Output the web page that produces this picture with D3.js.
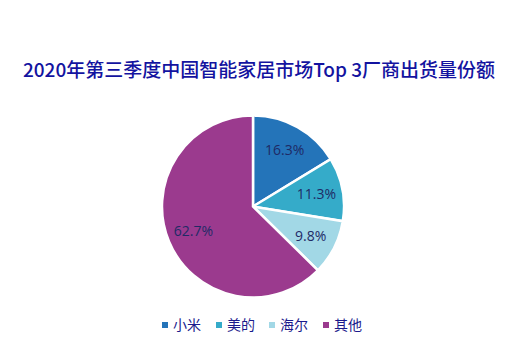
<!DOCTYPE html>
<html>
<head>
<meta charset="utf-8">
<script src="https://cdn.jsdelivr.net/npm/d3@7"></script>
<style>
  body { margin: 0; background: #fff; }
</style>
</head>
<body>
<div id="chart"></div>
<script>
// Data
const brands = ["小米", "美的", "海尔", "其他"];
const shares = [16.3, 11.3, 9.8, 62.7];
const colors = ["#2474b9", "#35abc9", "#a2d8e6", "#9b3a8e"];
const title = "2020年第三季度中国智能家居市场Top 3厂商出货量份额";

const width = 520;
const height = 351;
const cx = 253, cy = 206.5, r = 91;

const svg = d3.select("#chart")
  .append("svg")
  .attr("width", width)
  .attr("height", height);

// Title
svg.append("text")
  .attr("x", width / 2 - 1)
  .attr("y", 77)
  .attr("text-anchor", "middle")
  .attr("font-family", "'Noto Sans CJK SC', sans-serif")
  .attr("font-size", "19px")
  .attr("font-weight", "500")
  .attr("fill", "#1313a0")
  .text(title);

const data = brands.map((b, i) => ({ brand: b, value: shares[i] }));

const pie = d3.pie()
  .value(d => d.value)
  .sort(null);

const arc = d3.arc().innerRadius(0).outerRadius(r);
const labelArc = d3.arc().innerRadius(r * 0.71).outerRadius(r * 0.71);

const color = d3.scaleOrdinal().domain(brands).range(colors);

const g = svg.append("g").attr("transform", `translate(${cx},${cy})`);

const slices = g.selectAll(".slice")
  .data(pie(data))
  .enter()
  .append("g")
  .attr("class", "slice");

slices.append("path")
  .attr("d", arc)
  .attr("fill", d => color(d.data.brand))
  .attr("stroke", "#fff")
  .attr("stroke-width", 2.5);

slices.append("text")
  .attr("transform", d => `translate(${labelArc.centroid(d)})`)
  .attr("text-anchor", "middle")
  .attr("dy", "0.35em")
  .attr("font-family", "'Open Sans', sans-serif")
  .attr("font-size", "14px")
  .attr("fill", "#1f2a66")
  .text(d => d.data.value.toFixed(1) + "%");

// Legend
const legendX = [162, 216, 269, 323];
const legend = svg.append("g")
  .selectAll(".legend")
  .data(brands)
  .enter()
  .append("g")
  .attr("class", "legend")
  .attr("transform", (d, i) => `translate(${legendX[i]},325)`);

legend.append("rect")
  .attr("x", 0)
  .attr("y", -3)
  .attr("width", 6)
  .attr("height", 6)
  .attr("fill", d => color(d));

legend.append("text")
  .attr("x", 11)
  .attr("dy", "0.35em")
  .attr("font-family", "'Noto Sans CJK SC', sans-serif")
  .attr("font-size", "14px")
  .attr("fill", "#1a1a8c")
  .text(d => d);
</script>
</body>
</html>
